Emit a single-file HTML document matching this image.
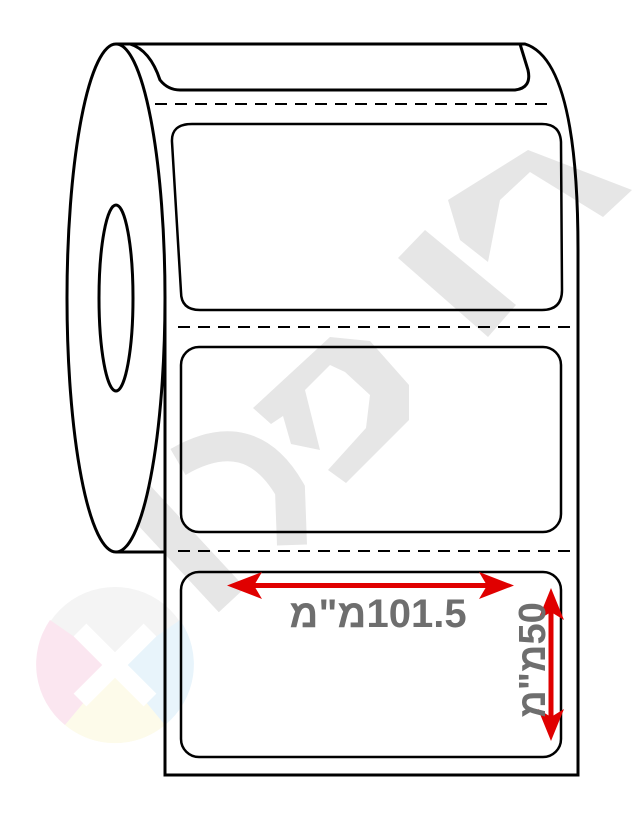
<!DOCTYPE html>
<html><head><meta charset="utf-8"><style>
html,body{margin:0;padding:0;background:#fff;}
svg{display:block}
</style></head><body>
<svg width="643" height="820" viewBox="0 0 643 820" xmlns="http://www.w3.org/2000/svg">
<!-- watermark -->
<g fill="#e6e6e6" stroke="none">
  <polygon points="448,200 528,150 632,190 603,217 530,172 500,200 488,262 460,240"/>
  <polygon points="398,258 425,230 516,305 488,337"/>
  <polygon points="253,408 330,337 370,341 409,385 409,420 346,483 328,470 366,428 370,395 345,372 330,365 305,390 320,450 291,444 283,416 271,424"/>
</g>
<g fill="none" stroke="#e6e6e6">
  <path d="M128,488 L232,600" stroke-width="36"/>
  <path d="M178,462 Q250,420 290,490 L292,545" stroke-width="30"/>
</g>
<circle cx="115" cy="665" r="78" fill="#f4f4f4"/>
<path d="M115,665 L50,620 A78,78 0 0,0 65,725 Z" fill="#fbe6f0"/>
<path d="M115,665 L180,620 A78,78 0 0,1 165,725 Z" fill="#e8f4fb"/>
<path d="M115,665 L65,725 A78,78 0 0,0 165,725 Z" fill="#fdfbea"/>
<g stroke="#fff" stroke-width="18"><line x1="80" y1="630" x2="150" y2="700"/><line x1="150" y1="630" x2="80" y2="700"/></g>

<g fill="none" stroke="#000" stroke-width="3">
  <path d="M116,44 L525,44 Q578,60 578,250 L578,775 L165,775 L165,300"/>
  <path d="M130,44 Q150,50 160,80 Q168,90 180,90 L515,90 Q532,88 528,70 L520,44"/>
  <ellipse cx="116" cy="298" rx="49" ry="254" fill="#fff"/>
  <line x1="116" y1="552" x2="165" y2="552"/>
  <ellipse cx="116" cy="298" rx="17" ry="93"/>
</g>
<g stroke="#000" stroke-width="2" stroke-dasharray="12,8">
  <line x1="155" y1="104" x2="550" y2="104"/>
  <line x1="178" y1="327" x2="572" y2="327"/>
  <line x1="178" y1="551" x2="572" y2="551"/>
</g>
<g fill="none" stroke="#000" stroke-width="2.5">
  <path d="M192,124 L542,124 Q560,124 561,142 L562,290 Q562,310 542,310 L200,310 Q181,310 181,292 L172,142 Q171,124 192,124 Z"/>
  <rect x="181" y="347" width="380" height="185" rx="18"/>
  <rect x="181" y="572" width="380" height="185" rx="18"/>
</g>
<g fill="#e00000" stroke="none">
  <rect x="250" y="583" width="242" height="5"/>
  <polygon points="227,585.5 262,572 254,585.5 262,599"/>
  <polygon points="514,585.5 479,572 487,585.5 479,599"/>
  <rect x="548.5" y="610" width="5" height="110"/>
  <polygon points="551,588 538,620 551,612 564,620"/>
  <polygon points="551,741 538,709 551,717 564,709"/>
</g>
<text x="378" y="627" text-anchor="middle" font-family="Liberation Sans, DejaVu Sans, sans-serif" font-weight="bold" font-size="40" fill="#6e6e6e">&#x202D;מ"מ101.5&#x202C;</text>
<text transform="translate(545,660) rotate(-90)" x="0" y="0" text-anchor="middle" font-family="Liberation Sans, DejaVu Sans, sans-serif" font-weight="bold" font-size="38" fill="#6e6e6e">&#x202D;מ"מ50&#x202C;</text>
</svg>
</body></html>
